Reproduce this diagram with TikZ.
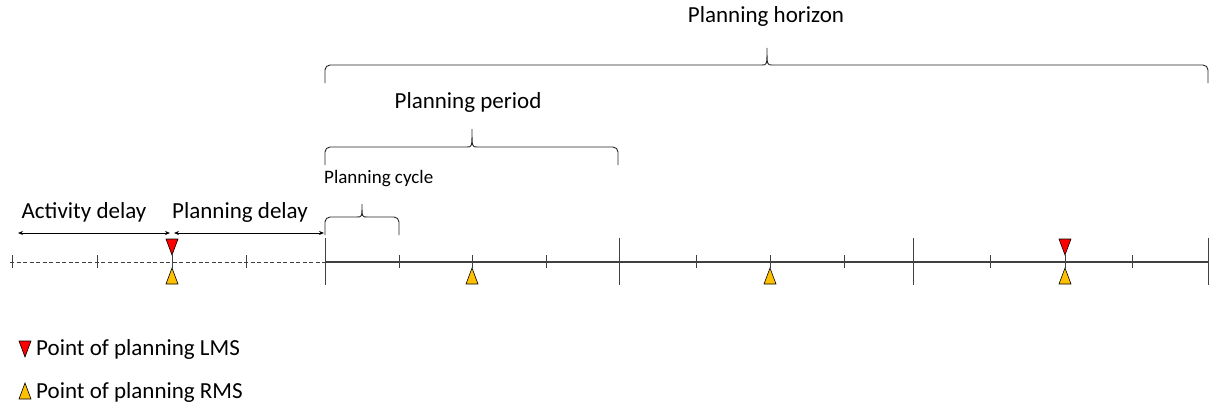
\documentclass[tikz,border=0pt]{standalone}
\usepackage{fontspec}
\setmainfont{Carlito}
\usetikzlibrary{arrows.meta}
\definecolor{lmsred}{HTML}{FF0000}
\definecolor{rmsyel}{HTML}{FFC000}
\definecolor{axisc}{HTML}{404040}
\tikzset{
  big/.style={font=\fontsize{23}{27}\selectfont, inner sep=0pt},
  small/.style={font=\fontsize{19}{23}\selectfont, inner sep=0pt},
  axis/.style={draw=axisc, line width=1.2pt},
  tick/.style={draw=axisc, line width=0.9pt},
  bracec/.style={draw=black!85, line width=0.9pt, rounded corners=5pt},
  dly/.style={draw=black, line width=0.9pt, {Stealth[length=5pt,width=4pt]}-{Stealth[length=5pt,width=4pt]}},
  lms/.pic={\draw[fill=lmsred, line width=0.6pt] (-6,-16)--(6,-16)--(0,0)--cycle;},
  rms/.pic={\draw[fill=rmsyel, line width=0.6pt] (-6,16)--(6,16)--(0,0)--cycle;}
}
\newcommand{\mybrace}[5]{% x1, x2, xm, yh, ytip ; yb = yh+18
  \draw[bracec] (#1,#4+18) -- (#1,#4) -- (#3-5,#4);
  \draw[draw=black!85, line width=0.9pt] (#3-5,#4) .. controls (#3,#4) .. (#3,#5) .. controls (#3,#4) .. (#3+5,#4);
  \draw[bracec] (#3+5,#4) -- (#2,#4) -- (#2,#4+18);
}
\begin{document}
\begin{tikzpicture}[x=1pt,y=-1pt]
\useasboundingbox (0,0) rectangle (1214,412);
% axis
\coordinate (d0) at (10,262);
\coordinate (s0) at (325,262);
\coordinate (s1) at (1208,262);
\draw[draw=axisc, line width=0.9pt, dash pattern=on 4pt off 2.5pt] (d0) -- (s0);
\draw[axis] (s0) -- (s1);
% dashed ticks
\foreach \x in {12,97,172,246}{\draw[tick] (\x,255) -- (\x,268);}
% big ticks
\foreach \x in {325,619,913,1208}{\draw[tick, line width=1pt] (\x,238) -- (\x,285);}
% small ticks
\foreach \x in {399,472,546,696,770,844,990,1065,1132}{\draw[tick] (\x,255) -- (\x,268);}
% triangles
\pic at (172,255) {lms};
\pic at (172,268) {rms};
\pic at (472,268) {rms};
\pic at (770,268) {rms};
\pic at (1065,255) {lms};
\pic at (1065,268) {rms};
% delay arrows
\coordinate (a1) at (18,233);
\coordinate (a2) at (170,233);
\coordinate (a3) at (174,233);
\coordinate (a4) at (324,233);
\draw[dly] (a1) -- (a2);
\draw[dly] (a3) -- (a4);
\node[big] (actd) at (84,212) {Activity delay};
\node[big] (pland) at (240,212) {Planning delay};
% braces
\mybrace{325}{1208}{767}{65}{48}
\mybrace{325}{618}{472}{147}{129}
\mybrace{325}{399}{362}{217}{204}
\node[big] (hor) at (766,16) {Planning horizon};
\node[big] (per) at (468,102) {Planning period};
\node[small, anchor=west] (cyc) at (324,179) {Planning cycle};
% legend
\pic at (25,357) {lms};
\pic at (25,383) {rms};
\node[big, anchor=west] (leg1) at (36,349) {Point of planning LMS};
\node[big, anchor=west] (leg2) at (36,392) {Point of planning RMS};
\end{tikzpicture}
\end{document}
